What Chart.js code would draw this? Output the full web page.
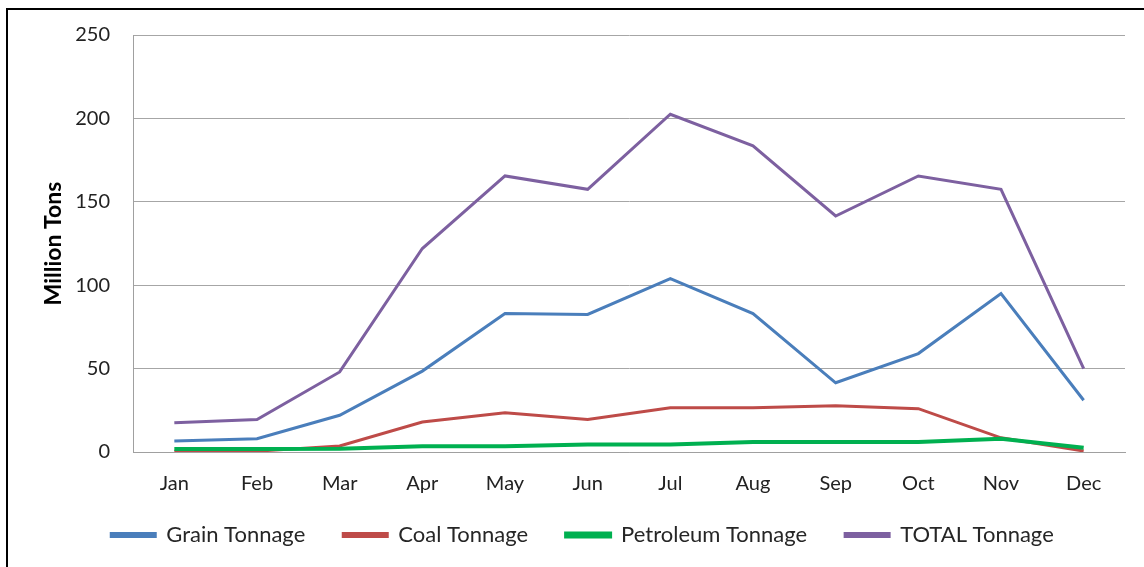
<!DOCTYPE html>
<html>
<head>
<meta charset="utf-8">
<script src="https://cdn.jsdelivr.net/npm/chart.js@4.4.0/dist/chart.umd.min.js"></script>
<style>
  html, body { margin: 0; padding: 0; background: #fff; overflow: hidden; }
  #frame { position: absolute; left: 6px; top: 8px; width: 2000px; height: 2000px;
           border-left: 2px solid #000; border-top: 2px solid #000; }
  #wrap { position: absolute; left: 0; top: 0; width: 1144px; height: 567px; }
</style>
</head>
<body>
<div id="frame"></div>
<div id="wrap"><canvas id="chart" width="1144" height="567"></canvas></div>
<script>
const months = ["Jan", "Feb", "Mar", "Apr", "May", "Jun", "Jul", "Aug", "Sep", "Oct", "Nov", "Dec"];
const grain = [6.6, 8, 22, 48.5, 83, 82.5, 104, 83, 41.5, 59, 95, 31];
const coal = [0.5, 0.5, 3.6, 18, 23.5, 19.5, 26.5, 26.5, 27.8, 26, 8.5, 0.6];
const petroleum = [1.8, 1.8, 2, 3.5, 3.5, 4.5, 4.5, 6, 6, 6, 8, 2.5];
const total = [17.5, 19.5, 48, 122, 165.5, 157.5, 202.5, 183.5, 141.5, 165.5, 157.5, 50];

const font = "Lato, 'Open Sans', sans-serif";

// legend needs wide gaps between items (padding 38) but a short band:
// fix its height for layout, then let it start a bit higher
const legendBand = {
    id: "legendBand",
    afterInit(chart) {
        const lg = chart.legend;
        const fit = lg.fit.bind(lg);
        lg.fit = function () {
            fit();
            this.height = 55;
        };
    },
    afterLayout(chart) {
        const lg = chart.legend;
        lg.top -= 26;
        lg.height += 26;
    },
};

const ctx = document.getElementById("chart").getContext("2d");
new Chart(ctx, {
    type: "line",
    data: {
        labels: months,
        datasets: [
            { label: "Grain Tonnage", data: grain, borderColor: "#4A7EBB", backgroundColor: "#4A7EBB", borderWidth: 3, order: 3 },
            { label: "Coal Tonnage", data: coal, borderColor: "#BE4B48", backgroundColor: "#BE4B48", borderWidth: 3, order: 2 },
            { label: "Petroleum Tonnage", data: petroleum, borderColor: "#00B050", backgroundColor: "#00B050", borderWidth: 4, order: 1 },
            { label: "TOTAL Tonnage", data: total, borderColor: "#7D60A0", backgroundColor: "#7D60A0", borderWidth: 3, order: 0 },
        ],
    },
    options: {
        responsive: false,
        animation: false,
        elements: { point: { radius: 0 }, line: { tension: 0 } },
        layout: { padding: { left: 40, top: 35, right: 19, bottom: 0 } },
        scales: {
            x: {
                offset: true,
                grid: { display: false, drawTicks: false },
                border: { display: true, color: "#A0A0A0", width: 1 },
                ticks: { padding: 20, color: "#222", font: { family: font, size: 20 } },
                afterFit: (scale) => { scale.height = 60; },
            },
            y: {
                min: 0,
                max: 250,
                ticks: { stepSize: 50, padding: 23, color: "#222", font: { family: font, size: 20 } },
                grid: { color: "#A6A6A6", drawTicks: false },
                border: { display: true, color: "#A0A0A0", width: 1 },
                title: {
                    display: true,
                    text: "Million Tons",
                    color: "#000",
                    font: { family: font, size: 23, weight: "bold" },
                    padding: { top: 0, bottom: 0 },
                },
                afterFit: (scale) => { scale.width = 93; },
            },
        },
        plugins: {
            legend: {
                position: "bottom",
                labels: {
                    boxWidth: 44,
                    boxHeight: 3,
                    padding: 38,
                    color: "#262626",
                    font: { family: font, size: 22 },
                    sort: (a, b) => a.datasetIndex - b.datasetIndex,
                },
            },
            tooltip: { enabled: false },
        },
    },
    plugins: [legendBand],
});
</script>
</body>
</html>
